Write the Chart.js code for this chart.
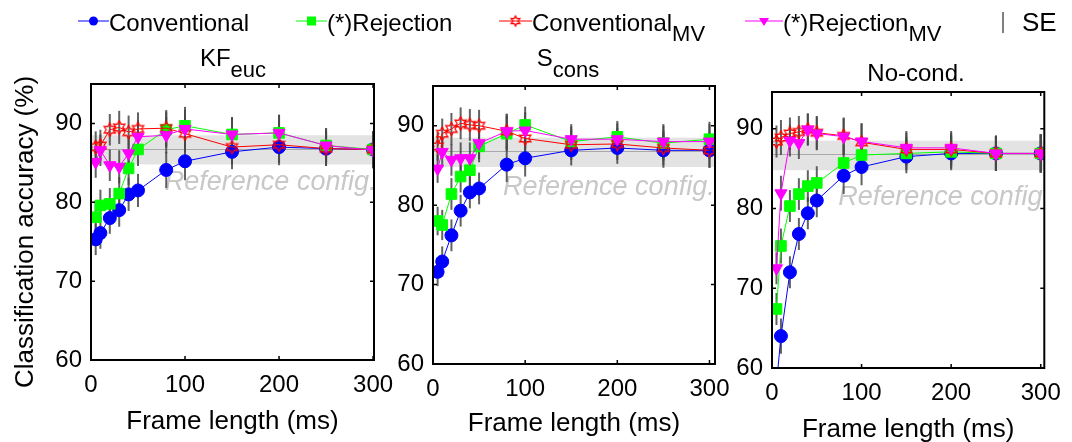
<!DOCTYPE html>
<html lang="en">
<head>
<meta charset="UTF-8">
<title>Classification accuracy vs frame length</title>
<script src="https://cdn.jsdelivr.net/npm/chart.js@4.4.1/dist/chart.umd.min.js"></script>
<style>
    html, body { margin: 0; padding: 0; background: #fff; }
    #wrap { position: relative; width: 1072px; height: 442px; }
    #wrap canvas { position: absolute; left: 0; top: 0; width: 1072px; height: 442px; }
</style>
</head>
<body>
<div id="wrap">
    <canvas id="c1" width="1072" height="442"></canvas>
    <canvas id="c2" width="1072" height="442"></canvas>
    <canvas id="c3" width="1072" height="442"></canvas>
</div>
<script>
    var FONT = '"Liberation Sans", Arial, Helvetica, sans-serif';

    // frame lengths (ms), shared by every panel
    var frameLength = [5, 10, 20, 30, 40, 50, 80, 100, 150, 200, 250, 300];

    // KF_euc
    var kfConv   = [75.3, 76.1, 78.0, 79.0, 81.0, 81.5, 84.1, 85.2, 86.4, 87.0, 86.8, 86.7];
    var kfRej    = [78.1, 79.6, 79.8, 81.1, 84.3, 86.7, 89.2, 89.7, 88.6, 88.8, 87.2, 86.7];
    var kfConvMV = [87.0, 87.2, 89.2, 89.5, 88.9, 89.3, 89.4, 88.7, 87.0, 87.3, 86.8, 86.7];
    var kfRejMV  = [85.1, 86.6, 84.7, 84.5, 86.2, 88.3, 88.5, 89.3, 88.6, 88.8, 87.2, 86.6];
    var kfSE     = [2.0, 2.0, 2.0, 2.1, 2.1, 2.1, 2.3, 2.4, 2.2, 2.3, 2.2, 2.3];

    // S_cons
    var consConv   = [71.6, 72.9, 76.2, 79.3, 81.6, 82.1, 85.1, 85.9, 86.9, 87.2, 86.9, 86.9];
    var consRej    = [78.0, 77.5, 81.4, 83.6, 84.4, 87.4, 89.0, 90.1, 88.0, 88.6, 87.8, 88.3];
    var consConvMV = [87.4, 89.0, 89.6, 90.3, 90.1, 90.0, 89.3, 88.4, 87.6, 87.7, 87.2, 86.9];
    var consRejMV  = [84.6, 86.7, 85.7, 85.9, 85.9, 87.8, 89.3, 89.4, 88.3, 88.3, 88.0, 88.0];
    var consSE     = [1.8, 1.9, 2.0, 2.0, 2.0, 2.0, 2.2, 2.3, 1.9, 2.0, 2.2, 2.2];

    // No-cond.
    var ncConv   = [58.0, 64.0, 72.0, 76.8, 79.4, 81.0, 84.1, 85.2, 86.5, 86.9, 86.9, 86.9];
    var ncRej    = [67.4, 75.3, 80.3, 81.8, 82.8, 83.2, 85.7, 86.7, 86.9, 87.1, 86.9, 86.9];
    var ncConvMV = [88.4, 88.9, 89.4, 89.6, 89.9, 89.5, 89.1, 88.3, 87.4, 87.4, 86.9, 86.9];
    var ncRejMV  = [72.5, 81.9, 88.5, 88.2, 89.9, 89.4, 89.0, 88.4, 87.6, 87.6, 86.9, 86.9];
    var ncSE     = [2.0, 2.2, 2.0, 2.0, 2.0, 2.1, 2.3, 2.3, 2.1, 2.1, 2.2, 2.4];

    // reference configuration accuracy and its band
    var refBand = [84.8, 88.5];
    var refAcc = 86.8;

    var xTicks = [0, 100, 200, 300];
    var yTicks = [60, 70, 80, 90];

    var seriesNames = ['Conventional', '(*)Rejection', 'Conventional', '(*)Rejection'];
    var seriesSubs = ['', '', 'MV', 'MV'];
    var seriesColors = ['#0000ff', '#00ff00', '#ff0000', '#ff00ff'];

    function starImage(r) {
        var c = document.createElement('canvas');
        var s = Math.ceil(r * 2 + 4);
        c.width = s; c.height = s;
        var g = c.getContext('2d');
        g.strokeStyle = '#ff0000';
        g.lineWidth = 1.3;
        g.beginPath();
        for (var i = 0; i < 12; i++) {
            var a = -Math.PI / 2 + i * Math.PI / 6;
            var rr = i % 2 ? r * 0.55 : r;
            var px = s / 2 + rr * Math.cos(a), py = s / 2 + rr * Math.sin(a);
            if (i) g.lineTo(px, py); else g.moveTo(px, py);
        }
        g.closePath();
        g.stroke();
        return c;
    }
    var star = starImage(6.5);
    var starSmall = starImage(5);

    var pointStyles = ['circle', 'rect', star, 'triangle'];
    var pointRadii = [6.5, 7.5, 6.5, 7];
    var pointRotations = [0, 0, 0, 180];

    var panels = [
        {canvas: 'c1', title: 'KF', sub: 'euc', titleX: 233, titleY: 66,
         left: 91, right: 374, top: 84, bottom: 360, xMax: 301, yMax: 95,
         tickPad: 11, titlePad: 5, noteX: 78.5, noteY: 81.6,
         series: [kfConv, kfRej, kfConvMV, kfRejMV], se: kfSE},
        {canvas: 'c2', title: 'S', sub: 'cons', titleX: 568, titleY: 66,
         left: 433, right: 715, top: 86, bottom: 364, xMax: 306, yMax: 95,
         tickPad: 11, titlePad: 3, noteX: 76, noteY: 81.3,
         series: [consConv, consRej, consConvMV, consRejMV], se: consSE},
        {canvas: 'c3', title: 'No-cond.', sub: '', titleX: 916, titleY: 81,
         left: 772, right: 1052, top: 92, bottom: 368, xMax: 304, yMax: 94.6,
         tickPad: 11, titlePad: -3, noteX: 74, noteY: 80.4,
         series: [ncConv, ncRej, ncConvMV, ncRejMV], se: ncSE}
    ];

    function drawTitle(ctx, main, sub, cx, baseY) {
        ctx.save();
        ctx.fillStyle = '#000';
        ctx.textBaseline = 'alphabetic';
        ctx.textAlign = 'left';
        ctx.font = '24px ' + FONT;
        var w1 = ctx.measureText(main).width;
        ctx.font = '22px ' + FONT;
        var w2 = sub ? ctx.measureText(sub).width : 0;
        var x0 = cx - (w1 + w2) / 2;
        ctx.font = '24px ' + FONT;
        ctx.fillText(main, x0, baseY);
        if (sub) {
            ctx.font = '22px ' + FONT;
            ctx.fillText(sub, x0 + w1, baseY + 11);
        }
        ctx.restore();
    }

    function decorations(p) {
        return {
            id: 'deco',
            beforeDatasetsDraw: function(chart) {
                var ctx = chart.ctx, a = chart.chartArea;
                var x = chart.scales.x, y = chart.scales.y;
                ctx.save();
                ctx.beginPath();
                ctx.rect(a.left, a.top, a.right - a.left, a.bottom - a.top);
                ctx.clip();
                var yHi = y.getPixelForValue(refBand[1]), yLo = y.getPixelForValue(refBand[0]);
                ctx.fillStyle = '#e3e3e3';
                ctx.fillRect(a.left, yHi, a.right - a.left, yLo - yHi);
                var yr = Math.round(y.getPixelForValue(refAcc)) + 0.5;
                ctx.strokeStyle = '#a8a8a8';
                ctx.lineWidth = 1;
                ctx.beginPath(); ctx.moveTo(a.left, yr); ctx.lineTo(a.right, yr); ctx.stroke();
                ctx.font = 'italic 27px ' + FONT;
                ctx.fillStyle = '#c8c8c8';
                ctx.textAlign = 'left';
                ctx.textBaseline = 'alphabetic';
                ctx.fillText('Reference config.', x.getPixelForValue(p.noteX), y.getPixelForValue(p.noteY));
                // standard error bars
                ctx.strokeStyle = 'rgba(70,70,70,0.85)';
                ctx.lineWidth = 2;
                p.series.forEach(function(vals) {
                    vals.forEach(function(v, k) {
                        var px = x.getPixelForValue(frameLength[k]);
                        ctx.beginPath();
                        ctx.moveTo(px, y.getPixelForValue(v - p.se[k]));
                        ctx.lineTo(px, y.getPixelForValue(v + p.se[k]));
                        ctx.stroke();
                    });
                });
                ctx.restore();
            },
            afterDraw: function(chart) {
                var ctx = chart.ctx, a = chart.chartArea;
                var x = chart.scales.x, y = chart.scales.y;
                ctx.save();
                ctx.strokeStyle = '#000';
                ctx.lineWidth = 2;
                ctx.strokeRect(a.left, a.top, a.right - a.left, a.bottom - a.top);
                ctx.lineWidth = 1.5;
                ctx.beginPath();
                xTicks.forEach(function(t) {
                    var px = x.getPixelForValue(t);
                    ctx.moveTo(px, a.bottom); ctx.lineTo(px, a.bottom - 4);
                    ctx.moveTo(px, a.top); ctx.lineTo(px, a.top + 4);
                });
                yTicks.forEach(function(t) {
                    var py = y.getPixelForValue(t);
                    ctx.moveTo(a.left, py); ctx.lineTo(a.left + 4, py);
                    ctx.moveTo(a.right, py); ctx.lineTo(a.right - 4, py);
                });
                ctx.stroke();
                ctx.restore();
                drawTitle(ctx, p.title, p.sub, p.titleX, p.titleY);
            }
        };
    }

    var legendPlugin = {
        id: 'figLegend',
        afterDraw: function(chart) {
            var ctx = chart.ctx;
            var items = [{x0: 78, x1: 109}, {x0: 296, x1: 327}, {x0: 499, x1: 532}, {x0: 745, x1: 783}];
            var ly = 21, base = 31;
            ctx.save();
            items.forEach(function(it, i) {
                var c = seriesColors[i], mx = (it.x0 + it.x1) / 2;
                ctx.strokeStyle = c; ctx.fillStyle = c; ctx.lineWidth = 1;
                ctx.beginPath(); ctx.moveTo(it.x0, ly); ctx.lineTo(it.x1, ly); ctx.stroke();
                ctx.beginPath();
                if (i === 0) {
                    ctx.arc(mx, ly, 4.5, 0, Math.PI * 2); ctx.fill();
                } else if (i === 1) {
                    ctx.fillRect(mx - 4.5, ly - 4.5, 9, 9);
                } else if (i === 2) {
                    ctx.drawImage(starSmall, mx - starSmall.width / 2, ly - starSmall.height / 2);
                } else {
                    ctx.moveTo(mx - 5, ly - 3); ctx.lineTo(mx + 5, ly - 3); ctx.lineTo(mx, ly + 5);
                    ctx.closePath(); ctx.fill();
                }
                ctx.fillStyle = '#000';
                ctx.textAlign = 'left';
                ctx.textBaseline = 'alphabetic';
                ctx.font = '24px ' + FONT;
                ctx.fillText(seriesNames[i], it.x1, base);
                if (seriesSubs[i]) {
                    var w = ctx.measureText(seriesNames[i]).width;
                    ctx.font = '22px ' + FONT;
                    ctx.fillText(seriesSubs[i], it.x1 + w, base + 10);
                }
            });
            ctx.strokeStyle = '#555';
            ctx.lineWidth = 1.5;
            ctx.beginPath(); ctx.moveTo(1003, 12); ctx.lineTo(1003, 33); ctx.stroke();
            ctx.fillStyle = '#000';
            ctx.font = '26px ' + FONT;
            ctx.fillText('SE', 1022, base);
            // shared y axis title
            ctx.translate(33, 232);
            ctx.rotate(-Math.PI / 2);
            ctx.textAlign = 'center';
            ctx.font = '26px ' + FONT;
            ctx.fillText('Classification accuracy (%)', 0, 0);
            ctx.restore();
        }
    };

    function fixedTicks(values) {
        return function(s) {
            s.ticks = values.map(function(v) { return {value: v}; });
        };
    }

    panels.forEach(function(p, idx) {
        var datasets = p.series.map(function(vals, i) {
            return {
                label: seriesNames[i] + seriesSubs[i],
                data: frameLength.map(function(f, k) { return {x: f, y: vals[k]}; }),
                borderColor: seriesColors[i],
                backgroundColor: seriesColors[i],
                borderWidth: 1,
                pointStyle: pointStyles[i],
                pointRadius: pointRadii[i],
                pointRotation: pointRotations[i],
                pointBorderWidth: 1,
                pointBorderColor: seriesColors[i],
                pointBackgroundColor: seriesColors[i],
                tension: 0,
                order: 3 - i
            };
        });
        var plugins = [decorations(p)];
        if (idx === 0) plugins.push(legendPlugin);
        new Chart(document.getElementById(p.canvas).getContext('2d'), {
            type: 'line',
            data: {datasets: datasets},
            plugins: plugins,
            options: {
                responsive: false,
                animation: false,
                events: [],
                layout: {padding: {left: 0, right: 1072 - p.right, top: p.top, bottom: 0}},
                plugins: {legend: {display: false}, tooltip: {enabled: false}},
                scales: {
                    x: {
                        type: 'linear', min: 0, max: p.xMax,
                        afterBuildTicks: fixedTicks(xTicks),
                        afterFit: function(s) { s.height = 442 - p.bottom; },
                        grid: {display: false, drawTicks: false},
                        border: {display: false},
                        ticks: {padding: p.tickPad, maxRotation: 0, autoSkip: false,
                                color: '#000', font: {family: FONT, size: 24}},
                        title: {display: true, text: 'Frame length (ms)', color: '#000',
                                font: {family: FONT, size: 26}, padding: {top: 0, bottom: p.titlePad}}
                    },
                    y: {
                        type: 'linear', min: 60, max: p.yMax,
                        afterBuildTicks: fixedTicks(yTicks),
                        afterFit: function(s) { s.width = p.left; },
                        grid: {display: false, drawTicks: false},
                        border: {display: false},
                        ticks: {padding: 9, autoSkip: false,
                                color: '#000', font: {family: FONT, size: 24}}
                    }
                }
            }
        });
    });
</script>
</body>
</html>
